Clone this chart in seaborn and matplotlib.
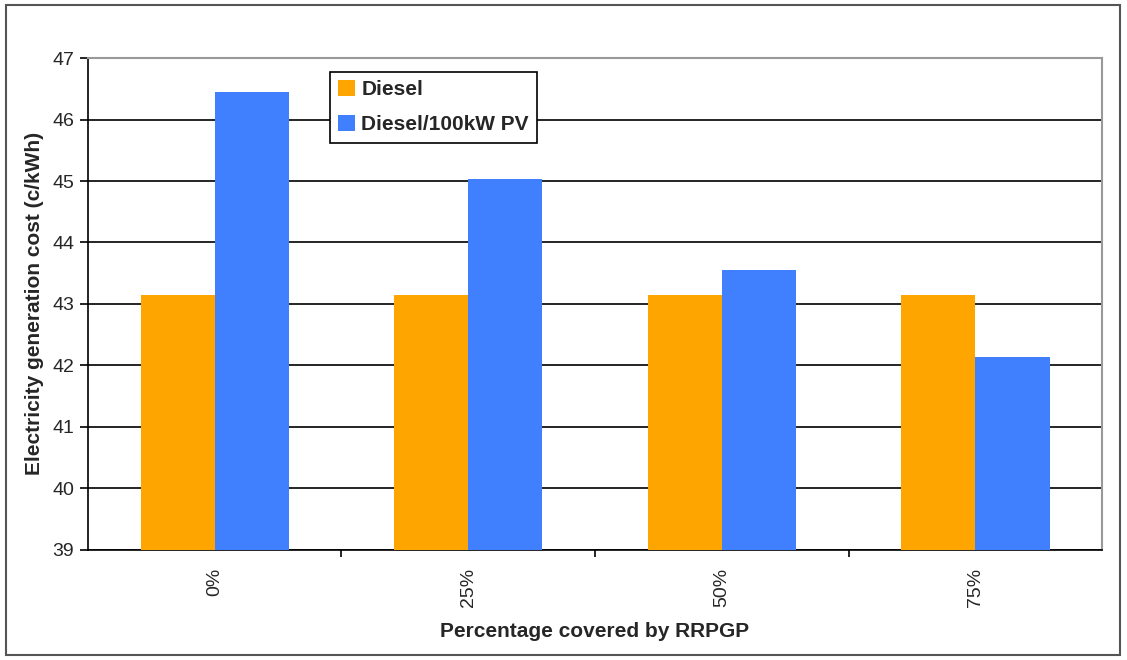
import matplotlib
matplotlib.use("Agg")
import matplotlib.pyplot as plt
import seaborn as sns
import pandas as pd
from matplotlib.patches import Rectangle

categories = ["0%", "25%", "50%", "75%"]
diesel = [43.15, 43.15, 43.15, 43.15]
diesel_pv = [46.45, 45.03, 43.55, 42.13]
series_names = ["Diesel", "Diesel/100kW PV"]
colors = ["#FFA500", "#4080FF"]

df = pd.DataFrame({
    "cat": categories * 2,
    "value": diesel + diesel_pv,
    "series": [series_names[0]] * 4 + [series_names[1]] * 4,
})

sns.set_theme(style="white")
plt.rcParams["font.family"] = ["Liberation Sans", "DejaVu Sans"]

fig = plt.figure(figsize=(11.27, 6.6), dpi=100)
ax = fig.add_axes([0.078, 0.167, 0.900, 0.745])

sns.barplot(data=df, x="cat", y="value", hue="series", palette=colors,
            width=0.585, ax=ax, saturation=1, edgecolor="none", zorder=3)

ax.set_ylim(39, 47)
ax.set_yticks(range(39, 48))
ax.set_xlim(-0.5, 3.5)
ax.yaxis.grid(True, color="black", linewidth=1.2, zorder=0)
ax.set_axisbelow(True)
ax.get_ygridlines()[-1].set_visible(False)
for s in ["top", "right"]:
    ax.spines[s].set_color("#999999")
    ax.spines[s].set_linewidth(1.5)
for s in ["left", "bottom"]:
    ax.spines[s].set_color("black")
    ax.spines[s].set_linewidth(1.2)

ax.set_xticks(range(4))
ax.set_xticklabels(categories, rotation=90, fontsize=14)
ax.set_xticks([0.5, 1.5, 2.5], minor=True)
ax.tick_params(axis="x", which="major", length=0, pad=13)
ax.tick_params(axis="x", which="minor", length=5, width=1.2, color="black", bottom=True)
ax.tick_params(axis="y", length=6, width=1.2, color="black", left=True, labelsize=14, pad=4)

ax.set_xlabel("Percentage covered by RRPGP", fontsize=15, fontweight="bold", labelpad=11)
ax.set_ylabel("Electricity generation cost (c/kWh)", fontsize=15, fontweight="bold", labelpad=6)

leg = ax.legend(loc="upper left", bbox_to_anchor=(0.2387, 0.972), frameon=True,
                fancybox=False, edgecolor="black", framealpha=1,
                prop={"weight": "bold", "size": 15}, handlelength=0.8,
                handleheight=0.8, handletextpad=0.3, borderpad=0.4,
                labelspacing=0.75, borderaxespad=0)
leg.get_frame().set_linewidth(1.2)

fig.patches.append(Rectangle((0.005, 0.007), 0.989, 0.986, transform=fig.transFigure,
                             fill=False, edgecolor="#555555", linewidth=1.5))

fig.savefig("out.png", dpi=100)
